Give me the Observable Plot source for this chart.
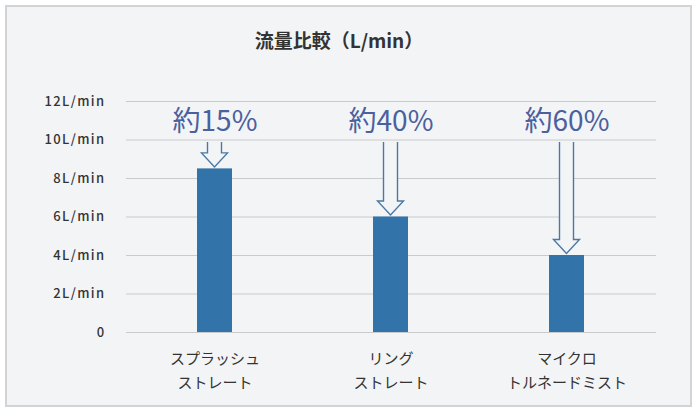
<!DOCTYPE html>
<html>
<head>
<meta charset="utf-8">
<script src="https://cdn.jsdelivr.net/npm/d3@7"></script>
<script src="https://cdn.jsdelivr.net/npm/@observablehq/plot@0.6"></script>
<style>
  html, body { margin: 0; padding: 0; background: #ffffff; width: 700px; height: 416px; overflow: hidden; }
  body { position: relative; font-family: "Noto Sans CJK JP", "Noto Sans", sans-serif; }
  #frame { position: absolute; left: 5px; top: 5px; width: 687px; height: 402px; box-sizing: border-box;
           border: 2px solid #d2d3d5; background: #f3f4f6; }
  #title { position: absolute; left: 0; top: 29px; width: 678px; text-align: center; font-size: 19px; line-height: 22px;
           font-weight: 700; color: #333333; font-family: "Noto Sans CJK JP", sans-serif; }
  #chart { position: absolute; left: 0; top: 70px; }
  #chart g[aria-label="y-axis tick label"] text { letter-spacing: 1.4px; }
</style>
</head>
<body>
<div id="frame"></div>
<div id="title">流量比較（L/min）</div>
<div id="chart"></div>
<script>
const categories = ["スプラッシュ\nストレート", "リング\nストレート", "マイクロ\nトルネードミスト"];
const flows = [8.5, 6, 4];
const reductions = ["約15%", "約40%", "約60%"];
const yTicks = [0, 2, 4, 6, 8, 10, 12];
const yTickLabels = ["0", "2L/min", "4L/min", "6L/min", "8L/min", "10L/min", "12L/min"];

const noteLevel = 10.95;  // y value where the percentage notes sit
const arrowTop = 9.87;    // y value where the arrows start

const data = categories.map((c, i) => ({category: c, flow: flows[i], note: reductions[i]}));

function arrowsMark(index, scales) {
  const sx = scales.x, sy = scales.y;
  const bw = typeof sx.bandwidth === "function" ? sx.bandwidth() : 0;
  const g = d3.create("svg:g").attr("aria-label", "arrows");
  for (const d of data) {
    const cx = sx(d.category) + bw / 2;
    const y0 = sy(arrowTop);
    const tip = sy(d.flow) - 1.5;
    const head = tip - 14;
    g.append("path")
      .attr("d", `M${cx - 7},${y0}V${head}H${cx - 13}L${cx},${tip}L${cx + 13},${head}H${cx + 7}V${y0}`)
      .attr("fill", "#f3f4f6")
      .attr("stroke", "#4a7aa3")
      .attr("stroke-width", 1.4)
      .attr("stroke-linejoin", "miter");
  }
  return g.node();
}

const chart = Plot.plot({
  width: 700,
  height: 346,
  marginLeft: 126,
  marginRight: 44,
  marginTop: 31,
  marginBottom: 84,
  style: {background: "transparent", fontFamily: "'Noto Sans CJK JP', sans-serif", color: "#333333"},
  x: {domain: categories, paddingInner: 0.8, paddingOuter: 0.4, label: null},
  y: {domain: [0, 12], label: null},
  marks: [
    Plot.gridY(yTicks, {stroke: "#c9cacc", strokeOpacity: 1, strokeWidth: 1}),
    Plot.axisY({ticks: yTicks, tickSize: 0, tickPadding: 21, fontSize: 13, fontWeight: 500,
      tickFormat: d => yTickLabels[yTicks.indexOf(d)], fill: "#333333"}),
    Plot.axisX({tickSize: 0, tickPadding: 14, fontSize: 15, lineHeight: 1.62, fill: "#333333"}),
    Plot.barY(data, {x: "category", y: "flow", fill: "#3274a9"}),
    arrowsMark,
    Plot.text(data, {x: "category", y: () => noteLevel, text: "note", fontSize: 28, fill: "#4b609e",
      fontWeight: 400, textAnchor: "middle"})
  ]
});
document.getElementById("chart").appendChild(chart);
</script>
</body>
</html>
